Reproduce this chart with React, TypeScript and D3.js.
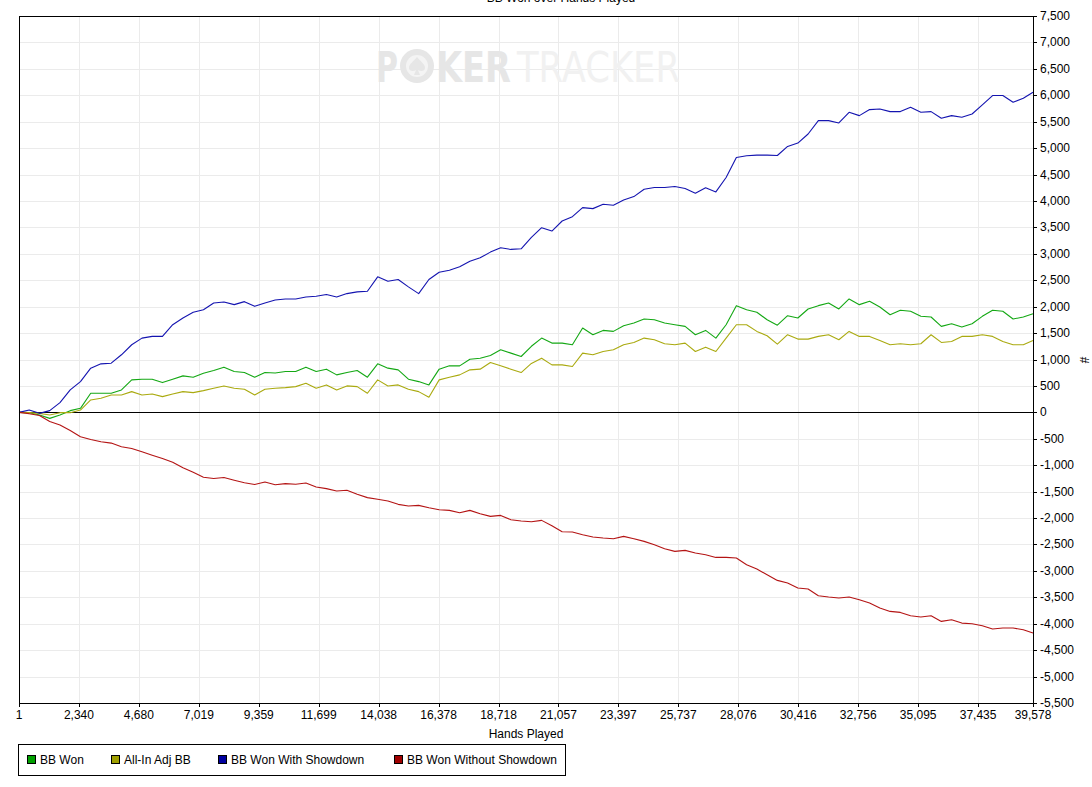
import React from "react";
import * as d3 from "d3";

const hands = [
  1, 400, 800, 1200, 1600, 2000, 2400, 2800, 3200, 3600,
  4000, 4400, 4800, 5200, 5600, 6000, 6400, 6800, 7200, 7600,
  8000, 8400, 8800, 9200, 9600, 10000, 10400, 10800, 11200, 11600,
  12000, 12400, 12800, 13200, 13600, 14000, 14400, 14800, 15200, 15600,
  16000, 16400, 16800, 17200, 17600, 18000, 18400, 18800, 19200, 19600,
  20000, 20400, 20800, 21200, 21600, 22000, 22400, 22800, 23200, 23600,
  24000, 24400, 24800, 25200, 25600, 26000, 26400, 26800, 27200, 27600,
  28000, 28400, 28800, 29200, 29600, 30000, 30400, 30800, 31200, 31600,
  32000, 32400, 32800, 33200, 33600, 34000, 34400, 34800, 35200, 35600,
  36000, 36400, 36800, 37200, 37600, 38000, 38400, 38800, 39200, 39578,
];

const bbWon = [
  0, -6, -50, -114, -50, 32, 76, 361, 361, 361,
  424, 614, 627, 627, 563, 627, 690, 665, 741, 791,
  855, 772, 753, 665, 753, 745, 772, 772, 855, 772,
  817, 709, 753, 791, 665, 918, 836, 804, 627, 582,
  519, 817, 880, 880, 1006, 1025, 1076, 1184, 1121, 1057,
  1250, 1405, 1310, 1310, 1279, 1595, 1469, 1551, 1532, 1640,
  1690, 1766, 1753, 1690, 1658, 1627, 1469, 1551, 1405, 1658,
  2019, 1943, 1893, 1753, 1650, 1829, 1785, 1956, 2019, 2070,
  1956, 2146, 2038, 2102, 1994, 1848, 1931, 1912, 1817, 1804,
  1627, 1677, 1614, 1677, 1817, 1931, 1912, 1766, 1804, 1867,
];

const allInAdj = [
  0, -6, -19, -50, -6, -6, 44, 234, 266, 329,
  329, 392, 329, 348, 298, 348, 392, 373, 411, 456,
  500, 456, 437, 329, 437, 456, 468, 487, 551, 456,
  519, 424, 500, 487, 361, 614, 500, 519, 437, 392,
  285, 614, 665, 709, 804, 817, 943, 880, 817, 753,
  925, 1025, 899, 899, 867, 1120, 1089, 1152, 1184, 1279,
  1323, 1405, 1374, 1298, 1279, 1310, 1152, 1234, 1152, 1405,
  1658, 1658, 1532, 1450, 1290, 1469, 1386, 1386, 1437, 1469,
  1374, 1532, 1437, 1437, 1361, 1279, 1298, 1279, 1298, 1469,
  1323, 1342, 1437, 1437, 1469, 1437, 1342, 1279, 1279, 1361,
];

const withShowdown = [
  0, 44, -19, 32, 184, 424, 582, 836, 918, 930,
  1089, 1279, 1405, 1437, 1437, 1659, 1785, 1893, 1943, 2070,
  2089, 2038, 2095, 2006, 2070, 2125, 2146, 2146, 2184, 2197,
  2229, 2184, 2247, 2279, 2292, 2564, 2482, 2513, 2374, 2247,
  2513, 2652, 2690, 2754, 2861, 2924, 3032, 3114, 3083, 3095,
  3310, 3494, 3431, 3621, 3703, 3874, 3855, 3937, 3918, 4020,
  4083, 4222, 4254, 4254, 4273, 4235, 4146, 4248, 4171, 4444,
  4823, 4855, 4868, 4868, 4860, 5032, 5096, 5267, 5520, 5520,
  5476, 5678, 5615, 5729, 5741, 5691, 5691, 5773, 5678, 5691,
  5564, 5615, 5583, 5646, 5817, 5995, 5995, 5868, 5944, 6058,
];

const withoutShowdown = [
  0, -25, -60, -175, -240, -345, -462, -513, -557, -582,
  -650, -685, -747, -810, -874, -946, -1048, -1133, -1228, -1253,
  -1234, -1285, -1332, -1364, -1317, -1370, -1348, -1361, -1336, -1412,
  -1443, -1488, -1475, -1551, -1614, -1646, -1677, -1741, -1772, -1760,
  -1804, -1842, -1855, -1899, -1855, -1918, -1969, -1950, -2032, -2057,
  -2070, -2044, -2145, -2259, -2265, -2316, -2360, -2379, -2391, -2347,
  -2391, -2442, -2505, -2581, -2631, -2612, -2663, -2694, -2745, -2745,
  -2757, -2883, -2965, -3073, -3180, -3230, -3325, -3344, -3470, -3495,
  -3514, -3495, -3546, -3609, -3704, -3767, -3786, -3849, -3874, -3849,
  -3956, -3925, -3988, -4000, -4038, -4101, -4082, -4082, -4114, -4177,
];

const xTicks = [1, 2340, 4680, 7019, 9359, 11699, 14038, 16378, 18718, 21057, 23397, 25737, 28076, 30416, 32756, 35095, 37435, 39578];
const yTicks = [-5500, -5000, -4500, -4000, -3500, -3000, -2500, -2000, -1500, -1000, -500, 0, 500, 1000, 1500, 2000, 2500, 3000, 3500, 4000, 4500, 5000, 5500, 6000, 6500, 7000, 7500];

const seriesNames = ["BB Won", "All-In Adj BB", "BB Won With Showdown", "BB Won Without Showdown"];
const seriesValues = [bbWon, allInAdj, withShowdown, withoutShowdown];
const lineColors = ["#14a814", "#aaaa10", "#1414b0", "#b41414"];
const legendColors = ["#00a000", "#a0a000", "#0000a0", "#a00000"];
const legendX = [27, 111, 218, 394];

const W = 1092;
const H = 787;
const L = 19, R = 1033, T = 16, B = 703;
const FONT = "'Liberation Sans', Arial, sans-serif";

export default function App() {
  const x = d3.scaleLinear().domain([1, 39578]).range([L, R]);
  const y = d3.scaleLinear().domain([-5500, 7500]).range([B, T]);
  const line = d3
    .line<number>()
    .x((_, i) => x(hands[i]))
    .y((d) => y(d));
  const fmt = (n: number) => n.toLocaleString("en-US");

  return (
    <svg
      width={W}
      height={H}
      style={{ position: "absolute", left: 0, top: 0, background: "#fff" }}
      fontFamily={FONT}
    >
      <rect x={0} y={0} width={W} height={H} fill="#fff" />
      {/* grid */}
      {yTicks.map((t) => (
        <line key={"gy" + t} x1={L} x2={R} y1={Math.round(y(t)) + 0.5} y2={Math.round(y(t)) + 0.5} stroke="#ebebeb" />
      ))}
      {xTicks.map((t) => (
        <line key={"gx" + t} y1={T} y2={B} x1={Math.round(x(t)) + 0.5} x2={Math.round(x(t)) + 0.5} stroke="#ebebeb" />
      ))}
      {/* watermark */}
      <g>
        <text x={376} y={82} fontSize={42} fontWeight="bold" fill="#e6e6e6" fontFamily="'DejaVu Sans', sans-serif" textLength={22} lengthAdjust="spacingAndGlyphs">P</text>
        <circle cx={417} cy={66} r={17} fill="#e6e6e6" />
        <circle cx={417} cy={66} r={11} fill="#f4f4f4" />
        <path d="M417,57 C421,62 425,64 425,68 C425,71 421,72 418,70 L420,75 L414,75 L416,70 C413,72 409,71 409,68 C409,64 413,62 417,57 Z" fill="#e6e6e6" />
        <text x={436} y={82} fontSize={42} fontWeight="bold" fill="#e6e6e6" fontFamily="'DejaVu Sans', sans-serif" textLength={75} lengthAdjust="spacingAndGlyphs">KER</text>
        <text x={517} y={82} fontSize={42} fill="#f1f1f1" fontFamily="'DejaVu Sans', sans-serif" textLength={163} lengthAdjust="spacingAndGlyphs">TRACKER</text>
      </g>
      {/* zero line */}
      <line x1={L} x2={R} y1={Math.round(y(0)) + 0.5} y2={Math.round(y(0)) + 0.5} stroke="#000" />
      {/* series */}
      {seriesValues.map((vals, i) => (
        <path key={seriesNames[i]} d={line(vals) || ""} fill="none" stroke={lineColors[i]} strokeWidth={1.1} strokeLinejoin="round" />
      ))}
      {/* frame */}
      <rect x={L + 0.5} y={T + 0.5} width={R - L} height={B - T} fill="none" stroke="#000" />
      {/* y axis right */}
      {yTicks.map((t) => (
        <g key={"yt" + t}>
          <line x1={R} x2={R + 4} y1={Math.round(y(t)) + 0.5} y2={Math.round(y(t)) + 0.5} stroke="#000" />
          <text x={R + 7} y={y(t) + 4} fontSize={12} fill="#000">{fmt(t)}</text>
        </g>
      ))}
      <text x={1080} y={360} fontSize={12} fill="#000" textAnchor="middle" transform="rotate(90,1080,360)">#</text>
      {/* x axis */}
      {xTicks.map((t) => (
        <g key={"xt" + t}>
          <line x1={Math.round(x(t)) + 0.5} x2={Math.round(x(t)) + 0.5} y1={B} y2={B + 4} stroke="#000" />
          <text x={x(t)} y={719} fontSize={12} fill="#000" textAnchor="middle">{fmt(t)}</text>
        </g>
      ))}
      <text x={526} y={738} fontSize={12} fill="#000" textAnchor="middle">Hands Played</text>
      {/* title */}
      <text x={561} y={2} fontSize={12} fill="#000" textAnchor="middle">BB Won over Hands Played</text>
      {/* legend */}
      <rect x={18.5} y={744.5} width={547} height={31} fill="#fff" stroke="#000" />
      {seriesNames.map((name, i) => (
        <g key={"lg" + name}>
          <rect x={legendX[i] + 0.5} y={755.5} width={8} height={8} fill={legendColors[i]} stroke="#000" />
          <text x={legendX[i] + 13} y={764} fontSize={12} fill="#000">{name}</text>
        </g>
      ))}
    </svg>
  );
}
